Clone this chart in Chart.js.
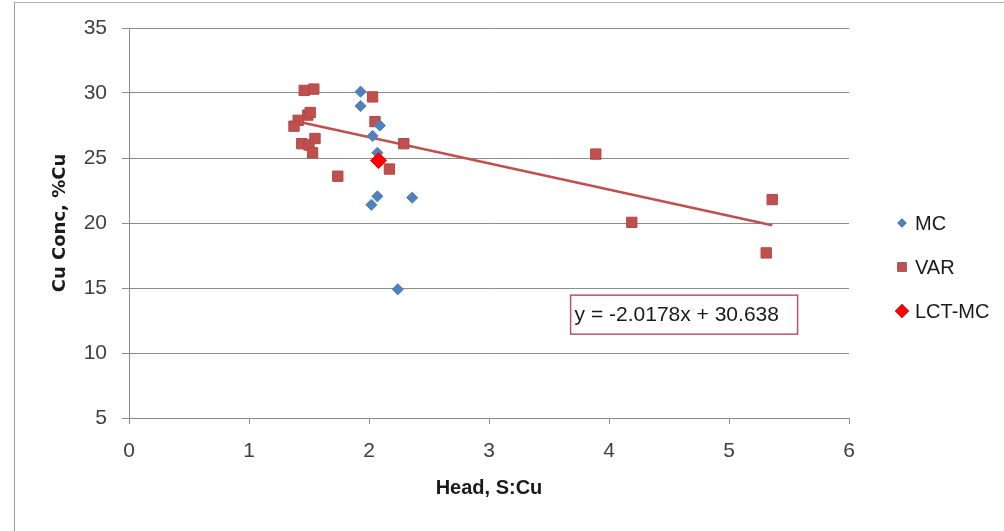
<!DOCTYPE html>
<html>
<head>
<meta charset="utf-8">
<script src="https://cdn.jsdelivr.net/npm/chart.js@4.4.1/dist/chart.umd.min.js"></script>
<style>
  html, body { margin: 0; padding: 0; background: #fff; }
  #wrap { position: relative; width: 1004px; height: 531px; overflow: hidden; }
  #frame { position: absolute; left: 14px; top: 2px; width: 1000px; height: 540px;
           border-left: 1px solid #9a9a9a; border-top: 1px solid #b0b0b0; pointer-events: none; }
</style>
</head>
<body>
<div id="wrap">
  <canvas id="myChart" width="1004" height="531"></canvas>
  <div id="frame"></div>
</div>
<script>
// values
var mcX = [1.93, 1.93, 2.09, 2.03, 2.07, 2.07, 2.02, 2.36, 2.24];
var mcY = [30.1, 29.0, 27.5, 26.7, 25.4, 22.05, 21.4, 21.95, 14.9];

var varX = [1.46, 1.54, 2.03, 1.49, 1.51, 1.41, 1.375, 2.05, 1.44, 1.50, 1.55, 1.53, 2.29, 2.17, 1.74, 3.89, 4.19, 5.36, 5.31];
var varY = [30.2, 30.3, 29.7, 28.3, 28.5, 27.9, 27.45, 27.8, 26.1, 26.0, 26.5, 25.4, 26.1, 24.15, 23.6, 25.3, 20.05, 21.8, 17.7];

var lctX = [2.08];
var lctY = [24.8];

// trendline on VAR, as printed on the chart
var slope = -2.0178;
var intercept = 30.638;
var eqText = "y = -2.0178x + 30.638";

var xTicks = [0, 1, 2, 3, 4, 5, 6];
var yTicks = [5, 10, 15, 20, 25, 30, 35];

var blue = "#4F81BD";
var red = "#C0504D";
var bright = "#FF0000";

function toPoints(xs, ys){
	var out = [];
	for(var i=0; i<xs.length; i++){
		out.push({x: xs[i], y: ys[i]});
	}
	return out;
};

var minX = Math.min.apply(null, varX);
var maxX = Math.max.apply(null, varX);
var trend = [
	{x: minX, y: intercept + slope * minX},
	{x: maxX, y: intercept + slope * maxX}
];

var legendItems = [
	{text: "MC", style: "rectRot", radius: 4.5, color: blue},
	{text: "VAR", style: "rect", radius: 6.5, color: red},
	{text: "LCT-MC", style: "rectRot", radius: 7, color: bright}
];

// legend + equation box, drawn after the datasets
var extras = {
	id: "extras",
	afterDraw: function(chart){
		var ctx = chart.ctx;
		var area = chart.chartArea;
		var xs = chart.scales.x;
		var ys = chart.scales.y;
		ctx.save();

		// equation label
		var bx = xs.getPixelForValue(3.68);
		var by = ys.getPixelForValue(14.45);
		ctx.strokeStyle = "#B85565";
		ctx.lineWidth = 1.5;
		ctx.strokeRect(bx, by, 227, 39);
		ctx.fillStyle = "#1a1a1a";
		ctx.font = "21px 'Liberation Sans'";
		ctx.textBaseline = "middle";
		ctx.textAlign = "left";
		ctx.fillText(eqText, bx + 4, by + 20);

		// legend
		var cy = (area.top + area.bottom) / 2;
		legendItems.forEach(function(it, i){
			var y = cy + i * 44;
			Chart.helpers.drawPoint(ctx, {
				pointStyle: it.style, radius: it.radius, rotation: 0, borderWidth: 0
			}, area.right + 53, y);
			ctx.fillStyle = it.color;
			ctx.fill();
			ctx.fillStyle = "#1a1a1a";
			ctx.font = "20px 'Liberation Sans'";
			ctx.fillText(it.text, area.right + 66, y + 1);
		});
		ctx.restore();
	}
};

var chart = new Chart(document.getElementById("myChart"), {
	type: "scatter",
	data: {
		datasets: [{
			label: "MC",
			data: toPoints(mcX, mcY),
			pointStyle: "rectRot",
			pointRadius: 5.6,
			backgroundColor: blue,
			borderColor: blue,
			borderWidth: 1,
			order: 2
		}, {
			label: "VAR",
			data: toPoints(varX, varY),
			pointStyle: "rect",
			pointRadius: 7.3,
			backgroundColor: red,
			borderColor: "#B04845",
			borderWidth: 1,
			order: 3
		}, {
			label: "LCT-MC",
			data: toPoints(lctX, lctY),
			pointStyle: "rectRot",
			pointRadius: 8,
			backgroundColor: bright,
			borderColor: bright,
			borderWidth: 1,
			order: 1
		}, {
			label: "Linear (VAR)",
			type: "line",
			data: trend,
			showLine: true,
			borderColor: red,
			borderWidth: 2.5,
			pointRadius: 0,
			fill: false,
			order: 4
		}]
	},
	options: {
		responsive: false,
		animation: false,
		layout: {padding: {left: 0, top: 28, right: 155, bottom: 0}},
		plugins: {
			legend: {display: false},
			tooltip: {enabled: false}
		},
		scales: {
			x: {
				type: "linear",
				min: 0,
				max: 6,
				afterBuildTicks: function(s){ s.ticks = xTicks.map(function(v){ return {value: v}; }); },
				ticks: {
					color: "#404040",
					font: {family: "'Liberation Sans'", size: 21},
					padding: 15
				},
				grid: {drawOnChartArea: false, drawTicks: true, tickLength: 6, color: "#8c8c8c"},
				border: {display: true, color: "#8c8c8c"},
				title: {
					display: true,
					text: "Head, S:Cu",
					color: "#1a1a1a",
					font: {family: "'Liberation Sans'", size: 20, weight: "bold"},
					padding: {top: 0, bottom: 31}
				},
				afterFit: function(s){ s.height = 113; s.paddingLeft = 0; s.paddingRight = 0; }
			},
			y: {
				type: "linear",
				min: 5,
				max: 35,
				afterBuildTicks: function(s){ s.ticks = yTicks.map(function(v){ return {value: v}; }); },
				ticks: {
					color: "#404040",
					font: {family: "'Liberation Sans'", size: 21},
					padding: 15
				},
				grid: {drawOnChartArea: true, drawTicks: true, tickLength: 7, color: "#8c8c8c"},
				border: {display: true, color: "#8c8c8c"},
				title: {
					display: true,
					text: "Cu Conc, %Cu",
					color: "#1a1a1a",
					font: {family: "'DejaVu Sans'", size: 18, weight: "bold"},
					padding: {top: 50, bottom: 0}
				},
				afterFit: function(s){ s.width = 129; s.paddingTop = 0; s.paddingBottom = 0; }
			}
		}
	},
	plugins: [extras]
});
</script>
</body>
</html>
